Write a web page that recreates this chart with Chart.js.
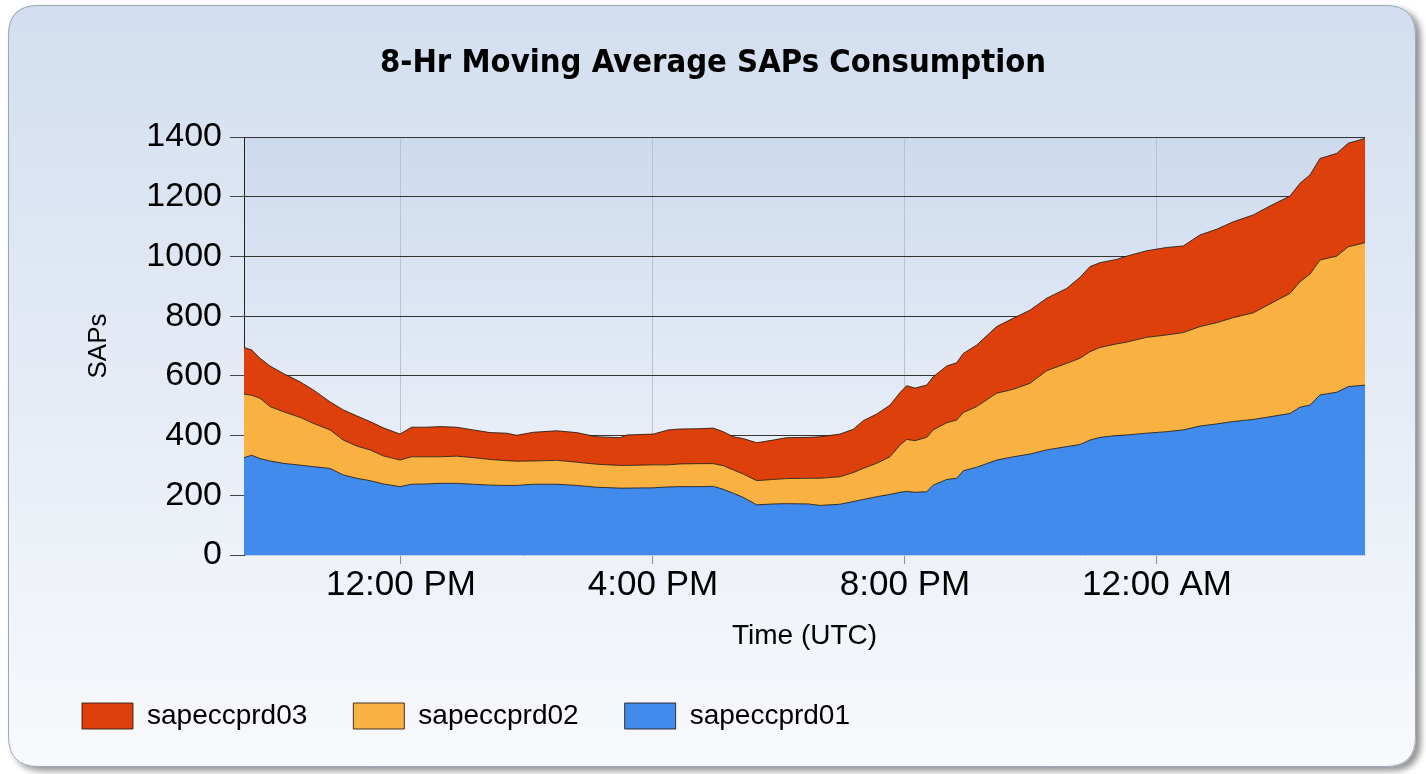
<!DOCTYPE html>
<html>
<head>
<meta charset="utf-8">
<script src="https://cdn.jsdelivr.net/npm/chart.js@4.4.1/dist/chart.umd.min.js"></script>
<style>
  html, body { margin: 0; padding: 0; background: #ffffff; }
  #wrap { width: 1426px; height: 774px; position: relative; }
</style>
</head>
<body>
<div id="wrap"><canvas id="c" width="1426" height="774"></canvas></div>
<script>
// Time of each sample, in hours since midnight of the first day (24 = 12:00 AM next day)
const hours = [9.508, 9.630, 9.762, 9.921, 10.132, 10.397, 10.608, 10.873, 11.084, 11.297,
  11.508, 11.719, 11.984, 12.170, 12.408, 12.619, 12.884, 13.148, 13.413, 13.678,
  13.837, 14.100, 14.471, 14.789, 15.106, 15.476, 15.583, 16.005, 16.243, 16.429,
  16.746, 16.957, 17.116, 17.275, 17.433, 17.646, 17.910, 18.122, 18.465, 18.651,
  18.968, 19.179, 19.338, 19.551, 19.762, 19.921, 20.027, 20.159, 20.344, 20.449,
  20.662, 20.821, 20.925, 21.138, 21.456, 21.719, 21.984, 22.249, 22.567, 22.778,
  22.937, 23.095, 23.360, 23.519, 23.837, 24.154, 24.417, 24.683, 24.948, 25.211,
  25.529, 25.794, 26.111, 26.270, 26.429, 26.587, 26.852, 27.036, 27.302];

const sapeccprd01 = [326, 334, 323, 315, 307, 301, 296, 290, 268, 257,
  249, 238, 229, 237, 238, 240, 240, 237, 234, 233,
  233, 237, 237, 233, 227, 224, 224, 225, 228, 229,
  229, 230, 220, 207, 193, 168, 171, 172, 171, 166,
  170, 179, 186, 195, 203, 210, 213, 210, 212, 234,
  253, 257, 282, 294, 318, 329, 338, 352, 363, 370,
  385, 394, 400, 402, 408, 413, 419, 432, 439, 447,
  454, 463, 474, 495, 502, 536, 545, 564, 569];

const sapeccprd02 = [213, 201, 202, 182, 173, 160, 145, 129, 117, 108,
  103, 94, 89, 92, 91, 89, 91, 89, 86, 83,
  81, 78, 80, 78, 77, 76, 76, 77, 74, 76,
  77, 76, 79, 78, 78, 81, 82, 84, 86, 91,
  92, 97, 104, 112, 126, 158, 174, 173, 182, 185,
  190, 195, 195, 203, 224, 226, 237, 265, 279, 289,
  296, 301, 307, 311, 321, 324, 326, 333, 339, 348,
  357, 378, 402, 420, 439, 452, 456, 468, 477];

const sapeccprd03 = [156, 152, 134, 136, 128, 119, 112, 94, 101, 101,
  95, 94, 87, 99, 99, 101, 97, 93, 90, 92,
  87, 96, 99, 99, 92, 93, 102, 103, 117, 117,
  117, 119, 114, 111, 119, 127, 132, 137, 137, 139,
  143, 145, 160, 165, 173, 176, 180, 176, 175, 178,
  190, 192, 198, 206, 223, 238, 245, 243, 251, 271,
  285, 284, 283, 288, 290, 293, 290, 307, 313, 321,
  328, 328, 326, 330, 332, 340, 344, 347, 349];

const tickHours = [12, 16, 20, 24];
const tickLabels = ['12:00 PM', '4:00 PM', '8:00 PM', '12:00 AM'];
const yTicks = [0, 200, 400, 600, 800, 1000, 1200, 1400];
const seriesNames = ['sapeccprd01', 'sapeccprd02', 'sapeccprd03'];
const chartTitle = '8-Hr Moving Average SAPs Consumption';

const toPoints = (vals) => vals.map((v, i) => ({ x: hours[i], y: v }));

const FILLS = ['#418bed', '#f9b242', '#de400b'];
const LINE = 'rgba(35,25,15,0.85)';

function roundRect(ctx, x, y, w, h, r) {
  ctx.beginPath();
  ctx.moveTo(x + r, y);
  ctx.lineTo(x + w - r, y);
  ctx.quadraticCurveTo(x + w, y, x + w, y + r);
  ctx.lineTo(x + w, y + h - r);
  ctx.quadraticCurveTo(x + w, y + h, x + w - r, y + h);
  ctx.lineTo(x + r, y + h);
  ctx.quadraticCurveTo(x, y + h, x, y + h - r);
  ctx.lineTo(x, y + r);
  ctx.quadraticCurveTo(x, y, x + r, y);
  ctx.closePath();
}

const backgroundPlugin = {
  id: 'cardBackground',
  beforeDraw(chart) {
    const ctx = chart.ctx;
    const W = chart.width, H = chart.height;
    ctx.save();
    ctx.fillStyle = '#ffffff';
    ctx.fillRect(0, 0, W, H);
    const cx = 8, cy = 5, cw = 1408, ch = 762, r = 30;
    ctx.save();
    ctx.shadowColor = 'rgba(60,60,60,0.55)';
    ctx.shadowBlur = 6;
    ctx.shadowOffsetX = 5;
    ctx.shadowOffsetY = 4;
    roundRect(ctx, cx, cy, cw, ch, r);
    const g = ctx.createLinearGradient(0, cy, 0, cy + ch);
    g.addColorStop(0, '#d2deef');
    g.addColorStop(1, '#f8f9fc');
    ctx.fillStyle = g;
    ctx.fill();
    ctx.restore();
    roundRect(ctx, cx + 0.5, cy + 0.5, cw - 1, ch - 1, r);
    ctx.strokeStyle = '#98a6b8';
    ctx.lineWidth = 1;
    ctx.stroke();
    const a = chart.chartArea;
    const pg = ctx.createLinearGradient(0, a.top, 0, a.bottom);
    pg.addColorStop(0, '#cddaed');
    pg.addColorStop(1, '#f3f6fb');
    ctx.fillStyle = pg;
    ctx.fillRect(a.left, a.top, a.right - a.left, a.bottom - a.top);
    // chart title, centred on the card
    ctx.fillStyle = '#000000';
    ctx.font = "bold 32.5px 'DejaVu Sans Condensed', 'DejaVu Sans', sans-serif";
    ctx.textAlign = 'center';
    ctx.textBaseline = 'middle';
    ctx.fillText(chartTitle, W / 2, 64);
    ctx.restore();
  }
};

const datasets = [sapeccprd01, sapeccprd02, sapeccprd03].map((vals, i) => ({
  label: seriesNames[i],
  data: toPoints(vals),
  backgroundColor: FILLS[i],
  borderColor: LINE,
  borderWidth: 1,
  pointRadius: 0,
  pointHoverRadius: 0,
  tension: 0,
  fill: i === 0 ? 'origin' : '-1'
}));

new Chart(document.getElementById('c'), {
  type: 'line',
  data: { datasets },
  plugins: [backgroundPlugin],
  options: {
    responsive: false,
    animation: false,
    events: [],
    layout: { padding: { top: 137, left: 36, right: 61, bottom: 34 } },
    plugins: {
      title: { display: false },
      legend: {
        display: true,
        position: 'bottom',
        align: 'start',
        reverse: true,
        labels: {
          boxWidth: 51,
          boxHeight: 26,
          padding: 46,
          color: '#000000',
          font: { family: "'Liberation Sans', Arial, sans-serif", size: 28 }
        }
      },
      tooltip: { enabled: false },
      filler: { propagate: false }
    },
    scales: {
      x: {
        type: 'linear',
        min: 9.508,
        max: 27.302,
        afterFit(scale) { scale.height = 101; },
        afterBuildTicks(scale) { scale.ticks = tickHours.map(v => ({ value: v })); },
        ticks: {
          autoSkip: false,
          maxRotation: 0,
          padding: 0,
          color: '#000000',
          font: { family: "'Liberation Sans', Arial, sans-serif", size: 35 },
          callback(value) {
            const i = tickHours.indexOf(value);
            return i >= 0 ? tickLabels[i] : '';
          }
        },
        grid: {
          color: '#b8c2d0',
          lineWidth: 1,
          drawTicks: true,
          tickLength: 9,
          tickColor: '#8a8f99'
        },
        border: { display: true, color: '#c5cdd9', width: 1 },
        title: {
          display: true,
          text: 'Time (UTC)',
          color: '#000000',
          font: { family: "'Liberation Sans', Arial, sans-serif", size: 28 },
          padding: { top: 0, bottom: 3 }
        }
      },
      y: {
        type: 'linear',
        min: 0,
        max: 1400,
        stacked: true,
        afterFit(scale) { scale.width = 208; },
        afterBuildTicks(scale) { scale.ticks = yTicks.map(v => ({ value: v })); },
        ticks: {
          padding: 8,
          color: '#000000',
          font: { family: "'Liberation Sans', Arial, sans-serif", size: 34 },
          callback(value) { return String(value); }
        },
        grid: {
          color: '#333333',
          lineWidth: 1,
          drawTicks: true,
          tickLength: 14,
          tickColor: '#444444'
        },
        border: { display: true, color: '#222222', width: 1 },
        title: {
          display: true,
          text: 'SAPs',
          color: '#000000',
          font: { family: "'Liberation Sans', Arial, sans-serif", size: 26 },
          padding: { top: 47, bottom: 0 }
        }
      }
    }
  }
});
</script>
</body>
</html>
